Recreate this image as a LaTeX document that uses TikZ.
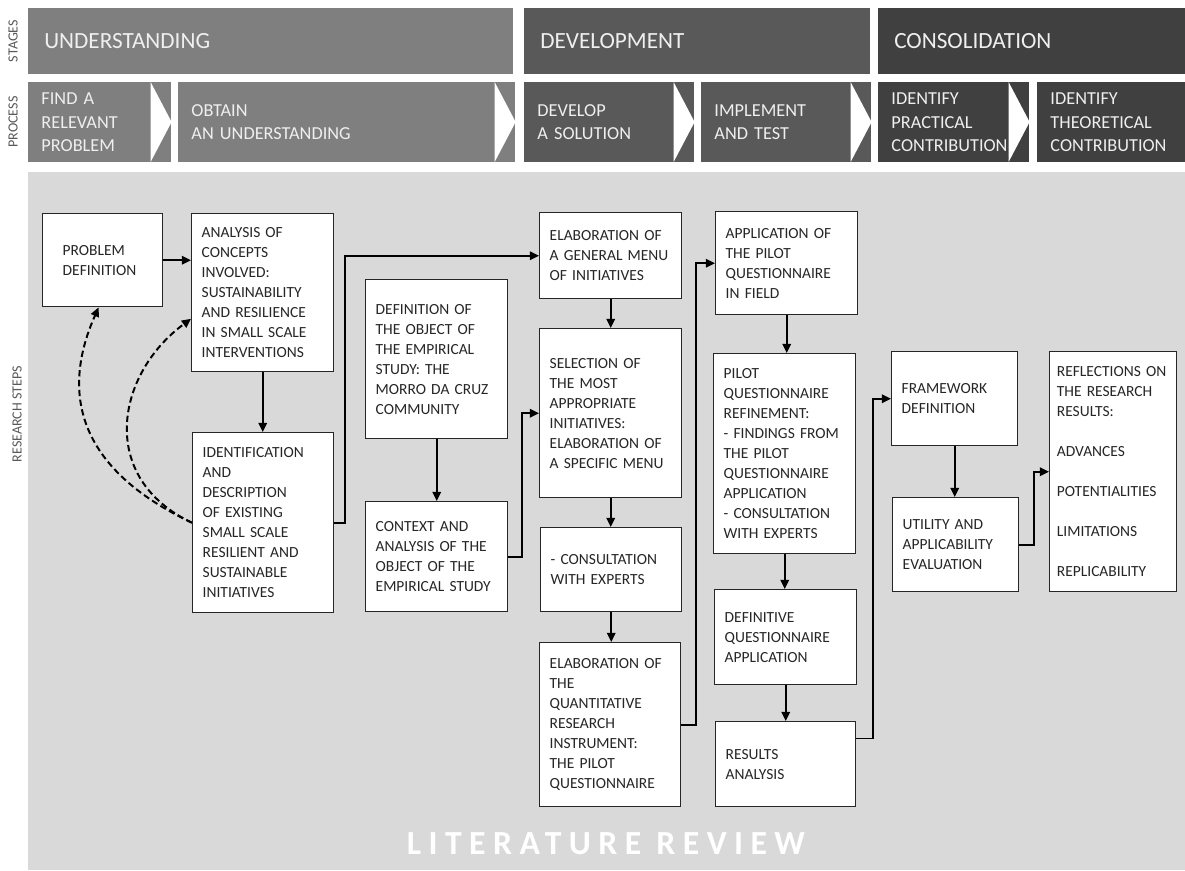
\documentclass[tikz,border=0pt]{standalone}
\usepackage{fontspec}
\setmainfont{Carlito}
\usetikzlibrary{arrows.meta}
\definecolor{stageone}{HTML}{7F7F7F}
\definecolor{stagetwo}{HTML}{595959}
\definecolor{stagethree}{HTML}{404040}
\definecolor{panel}{HTML}{D9D9D9}
\definecolor{headtext}{HTML}{EFEFEF}
\definecolor{boxtext}{HTML}{262626}
\begin{document}
\begin{tikzpicture}[x=0.025cm, y=-0.025cm,
    stagebar/.style={anchor=north west, inner xsep=0.4cm, inner ysep=0pt, align=left, text=headtext, minimum height=1.65cm, font=\fontsize{16.5}{20}\selectfont},
    procbox/.style={anchor=north west, inner xsep=0.33cm, inner ysep=0pt, align=left, text=headtext, minimum height=2cm, font=\fontsize{13}{16.5}\selectfont},
    stepbox/.style={draw=black!85, fill=white, line width=1pt, anchor=north west, inner xsep=0.25cm, inner ysep=0pt, align=left, text=boxtext, font=\fontsize{11}{14.2}\selectfont},
    sidelabel/.style={rotate=90, text=black!65, font=\fontsize{10}{12}\selectfont},
    conn/.style={line width=1.4pt, -{Triangle[length=6.5pt,width=6pt]}},
    dconn/.style={conn, dash pattern=on 4.5pt off 2.5pt}]
              \useasboundingbox (0,0) rectangle (1185,870);
              \fill[panel] (28,172) rectangle (1185,870);
              \node[sidelabel] (stageslbl) at (13,41) {STAGES};
              \node[sidelabel] (processlbl) at (13,122) {PROCESS};
              \node[sidelabel] (stepslbl) at (17,414) {RESEARCH STEPS};
              \node[stagebar, fill=stageone, text width=11.325cm] (understanding) at (28,8) {UNDERSTANDING};
              \node[stagebar, fill=stagetwo, text width=7.85cm] (development) at (524,8) {DEVELOPMENT};
              \node[stagebar, fill=stagethree, text width=6.875cm] (consolidation) at (878,8) {CONSOLIDATION};
              \node[procbox, fill=stageone, text width=2.915cm] (find) at (28,82) {FIND A\\RELEVANT\\PROBLEM};
              \node[procbox, fill=stageone, text width=7.765cm] (obtain) at (178,82) {OBTAIN\\AN UNDERSTANDING};
              \node[procbox, fill=stagetwo, text width=3.59cm] (develop) at (524,82) {DEVELOP\\A SOLUTION};
              \node[procbox, fill=stagetwo, text width=3.59cm] (implement) at (701,82) {IMPLEMENT\\AND TEST};
              \node[procbox, fill=stagethree, text width=3.115cm] (practical) at (878,82) {IDENTIFY\\PRACTICAL\\CONTRIBUTION};
              \node[procbox, fill=stagethree, text width=3.04cm] (theoretical) at (1037,82) {IDENTIFY\\THEORETICAL\\CONTRIBUTION};
              \foreach \p in {find,obtain,develop,implement,practical}
                \fill[white] (\p.north east) ++(-21,0) -- ++(0,80) -- ++(21,-40) -- cycle;
              \node[stepbox, inner xsep=0.5cm, text width=2.0cm, minimum height=2.325cm] (probdef) at (42,213) {PROBLEM\\DEFINITION};
              \node[stepbox, text width=3.05cm, minimum height=3.95cm] (analysis) at (191,213) {ANALYSIS OF\\CONCEPTS\\INVOLVED:\\SUSTAINABILITY\\AND RESILIENCE\\IN SMALL SCALE\\INTERVENTIONS};
              \node[stepbox, text width=3.025cm, minimum height=4.5cm] (ident) at (192,432) {IDENTIFICATION\\AND\\DESCRIPTION\\OF EXISTING\\SMALL SCALE\\RESILIENT AND\\SUSTAINABLE\\INITIATIVES};
              \node[stepbox, text width=3.05cm, minimum height=3.975cm] (defin) at (365,279) {DEFINITION OF\\THE OBJECT OF\\THE EMPIRICAL\\STUDY: THE\\MORRO DA CRUZ\\COMMUNITY};
              \node[stepbox, text width=3.05cm, minimum height=2.75cm] (context) at (365,501) {CONTEXT AND\\ANALYSIS OF THE\\OBJECT OF THE\\EMPIRICAL STUDY};
              \node[stepbox, text width=3.05cm, minimum height=2.15cm] (elabgen) at (539,212) {ELABORATION OF\\A GENERAL MENU\\OF INITIATIVES};
              \node[stepbox, text width=3.05cm, minimum height=4.225cm] (select) at (539,328) {SELECTION OF\\THE MOST\\APPROPRIATE\\INITIATIVES:\\ELABORATION OF\\A SPECIFIC MENU};
              \node[stepbox, text width=3.025cm, minimum height=2.1cm] (consult) at (540,527) {- CONSULTATION\\WITH EXPERTS};
              \node[stepbox, text width=3.025cm, minimum height=4.1cm] (elabq) at (539,642) {ELABORATION OF\\THE\\QUANTITATIVE\\RESEARCH\\INSTRUMENT:\\THE PILOT\\QUESTIONNAIRE};
              \node[stepbox, text width=3.05cm, minimum height=2.575cm] (apply) at (715,211) {APPLICATION OF\\THE PILOT\\QUESTIONNAIRE\\IN FIELD};
              \node[stepbox, text width=3.05cm, minimum height=5.0cm] (pilot) at (713,353) {PILOT\\QUESTIONNAIRE\\REFINEMENT:\\- FINDINGS FROM\\THE PILOT\\QUESTIONNAIRE\\APPLICATION\\- CONSULTATION\\WITH EXPERTS};
              \node[stepbox, text width=3.05cm, minimum height=2.375cm] (defq) at (714,589) {DEFINITIVE\\QUESTIONNAIRE\\APPLICATION};
              \node[stepbox, text width=3.0cm, minimum height=2.125cm] (results) at (715,721) {RESULTS\\ANALYSIS};
              \node[stepbox, text width=2.65cm, minimum height=2.35cm] (frame) at (891,351) {FRAMEWORK\\DEFINITION};
              \node[stepbox, text width=2.65cm, minimum height=2.35cm] (utility) at (892,497) {UTILITY AND\\APPLICABILITY\\EVALUATION};
              \node[stepbox, inner xsep=0.18cm, text width=2.815cm, minimum height=6.0cm] (reflect) at (1049,351) {REFLECTIONS ON\\THE RESEARCH\\RESULTS:\\[14.2pt]ADVANCES\\[14.2pt]POTENTIALITIES\\[14.2pt]LIMITATIONS\\[14.2pt]REPLICABILITY};
              \node[text=white, font=\fontsize{24}{28}\selectfont\bfseries\addfontfeature{LetterSpace=22}] (litrev) at (606,844) {LITERATURE\hspace{0.45em}REVIEW};
              \draw[conn] (probdef.east) -- (probdef.east -| analysis.west);
              \draw[conn] (analysis.south) -- (analysis.south |- ident.north);
              \draw[conn] (ident.east) -- ++(11,0) |- (elabgen.west);
              \draw[conn] (defin.south) -- (defin.south |- context.north);
              \draw[conn] (context.east) -- ++(14,0) |- (select.west);
              \draw[conn] (elabgen.south) -- (elabgen.south |- select.north);
              \draw[conn] (select.south) -- (select.south |- consult.north);
              \draw[conn] (consult.south) -- (consult.south |- elabq.north);
              \draw[conn] (elabq.east) -- ++(15,0) |- (apply.west);
              \draw[conn] (apply.south) -- (apply.south |- pilot.north);
              \draw[conn] (pilot.south) -- (pilot.south |- defq.north);
              \draw[conn] (defq.south) -- (defq.south |- results.north);
              \draw[conn] (results.20) -- ++(17,0) |- (frame.west);
              \draw[conn] (frame.south) -- (frame.south |- utility.north);
              \draw[conn] (utility.east) -- ++(15,0) |- (reflect.west);
              \draw[dconn] (ident.west) .. controls +(-110,-52) and +(-40,90) .. (probdef.265);
              \draw[dconn] (ident.west) .. controls +(-95,-45) and +(-75,55) .. (analysis.200);
            \end{tikzpicture}
\end{document}
